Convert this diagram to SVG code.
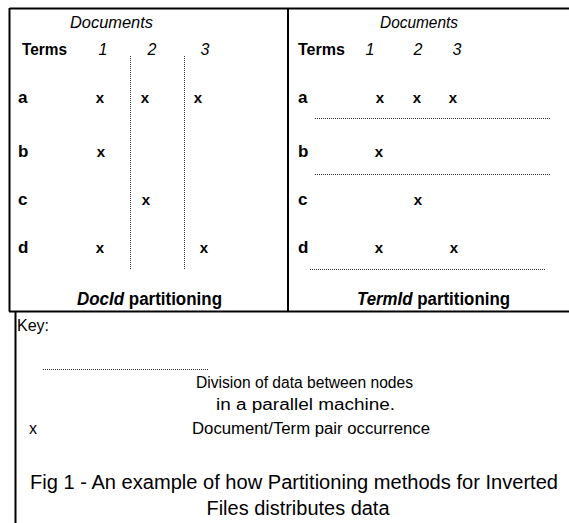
<svg xmlns="http://www.w3.org/2000/svg" width="569" height="523" viewBox="0 0 569 523">
<style>
text{font-family:"Liberation Sans",Arial,sans-serif;fill:#000}
.hd{font-size:16px;font-style:italic}
.num{font-size:16px;font-style:italic;text-anchor:middle}
.tb{font-size:17px;font-weight:bold}
.x{font-size:15px;font-weight:bold;text-anchor:middle}
.ttl{font-size:18px;font-weight:bold;text-anchor:middle}
.key{font-size:16px}
.cap{font-size:20px;text-anchor:middle}
.frame{stroke:#000;stroke-width:2;fill:none}
.dot{stroke:#333;stroke-width:1;stroke-dasharray:1 1;fill:none}
</style>
<rect width="569" height="523" fill="#fff"/>
<g id="frame">
<path class="frame" d="M9.5 8.5H569M9.5 8V311.5M288 8V311.5M9 311.5H569M15.5 311V523"/>
</g>
<g id="connectors">
<path class="dot" d="M130.5 56V270M184.5 56V270"/>
<path class="dot" d="M315 118.5H550M315 174.5H550M310 269.5H545"/>
<path class="dot" d="M43 369.5H208"/>
</g>
<g id="docid-panel">
<text class="hd" x="70" y="28" textLength="83" lengthAdjust="spacingAndGlyphs">Documents</text>
<text class="tb" x="22" y="55" textLength="45" lengthAdjust="spacingAndGlyphs">Terms</text>
<text class="num" x="103" y="55">1</text>
<text class="num" x="152" y="55">2</text>
<text class="num" x="205" y="55">3</text>
<text class="tb" x="18" y="103">a</text>
<text class="tb" x="18" y="157">b</text>
<text class="tb" x="18" y="205">c</text>
<text class="tb" x="18" y="253">d</text>
<text class="x" x="100" y="103">x</text>
<text class="x" x="145" y="103">x</text>
<text class="x" x="198" y="103">x</text>
<text class="x" x="101" y="157">x</text>
<text class="x" x="146" y="205">x</text>
<text class="x" x="100" y="253">x</text>
<text class="x" x="204" y="253">x</text>
<text class="ttl" x="149.5" y="305" textLength="145" lengthAdjust="spacingAndGlyphs"><tspan font-style="italic">DocId</tspan> partitioning</text>
</g>
<g id="termid-panel">
<text class="hd" x="380" y="28" textLength="78" lengthAdjust="spacingAndGlyphs">Documents</text>
<text class="tb" x="298" y="55" textLength="47" lengthAdjust="spacingAndGlyphs">Terms</text>
<text class="num" x="370" y="55">1</text>
<text class="num" x="418" y="55">2</text>
<text class="num" x="457" y="55">3</text>
<text class="tb" x="298" y="103">a</text>
<text class="tb" x="298" y="157">b</text>
<text class="tb" x="298" y="205">c</text>
<text class="tb" x="298" y="253">d</text>
<text class="x" x="380" y="103">x</text>
<text class="x" x="417" y="103">x</text>
<text class="x" x="453" y="103">x</text>
<text class="x" x="379" y="157">x</text>
<text class="x" x="418" y="205">x</text>
<text class="x" x="379" y="253">x</text>
<text class="x" x="454" y="253">x</text>
<text class="ttl" x="433.5" y="305" textLength="153" lengthAdjust="spacingAndGlyphs"><tspan font-style="italic">TermId</tspan> partitioning</text>
</g>
<g id="key">
<text class="key" x="17" y="331" textLength="32" lengthAdjust="spacingAndGlyphs">Key:</text>
<text class="key" x="304.5" y="388" text-anchor="middle" textLength="217" lengthAdjust="spacingAndGlyphs">Division of data between nodes</text>
<text class="key" x="305.5" y="410" text-anchor="middle" textLength="179" lengthAdjust="spacingAndGlyphs">in a parallel machine.</text>
<text class="key" x="29" y="434">x</text>
<text class="key" x="311" y="434" text-anchor="middle" textLength="238" lengthAdjust="spacingAndGlyphs">Document/Term pair occurrence</text>
<text class="cap" x="294" y="489" textLength="528" lengthAdjust="spacingAndGlyphs">Fig 1 - An example of how Partitioning methods for Inverted</text>
<text class="cap" x="298" y="515" textLength="183" lengthAdjust="spacingAndGlyphs">Files distributes data</text>
</g>
</svg>
